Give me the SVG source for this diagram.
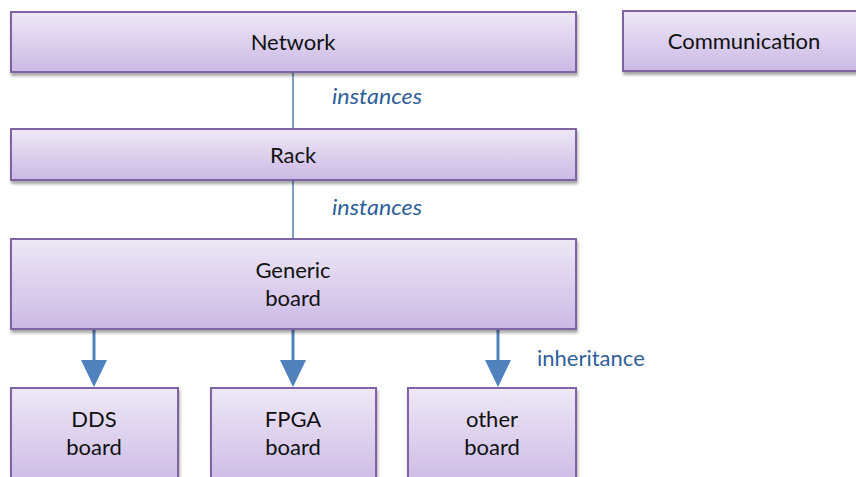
<svg xmlns="http://www.w3.org/2000/svg" width="856" height="477" viewBox="0 0 856 477">
<style>
.box{fill:url(#g);stroke:#8064a2;stroke-width:2;filter:url(#sh)}
.t{font-family:Lato,"Open Sans",sans-serif;font-size:22px;fill:#111;text-anchor:middle}
.lbl{font-family:Lato,"Open Sans",sans-serif;font-size:22px;fill:#2f5f99}
.ln{stroke:#4f81bd;fill:none}
</style>
<defs>
<linearGradient id="g" x1="0" y1="0" x2="0" y2="1">
<stop offset="0" stop-color="#eee8f6"/>
<stop offset="1" stop-color="#cbb9e5"/>
</linearGradient>
<filter id="sh" x="-5%" y="-10%" width="110%" height="130%">
<feGaussianBlur in="SourceAlpha" stdDeviation="1.5"/>
<feOffset dx="1" dy="3" result="b"/>
<feComponentTransfer><feFuncA type="linear" slope="0.35"/></feComponentTransfer>
<feMerge><feMergeNode/><feMergeNode in="SourceGraphic"/></feMerge>
</filter>
<marker id="ah" markerUnits="userSpaceOnUse" markerWidth="27" markerHeight="26" refX="1" refY="13" orient="auto" viewBox="0 0 27 26">
<path d="M0,0 L27,13 L0,26 Z" fill="#4f81bd"/>
</marker>
</defs>
<g id="connectors">
<line class="ln" x1="293" y1="72" x2="293" y2="129" stroke-width="1.5"/>
<line class="ln" x1="293" y1="180" x2="293" y2="239" stroke-width="1.5"/>
<line class="ln" x1="94" y1="329" x2="94" y2="361" stroke-width="3" marker-end="url(#ah)"/>
<line class="ln" x1="293" y1="329" x2="293" y2="361" stroke-width="3" marker-end="url(#ah)"/>
<line class="ln" x1="498" y1="329" x2="498" y2="361" stroke-width="3" marker-end="url(#ah)"/>
<text class="lbl" x="332" y="104" font-style="italic" textLength="90" lengthAdjust="spacingAndGlyphs">instances</text>
<text class="lbl" x="332" y="215" font-style="italic" textLength="90" lengthAdjust="spacingAndGlyphs">instances</text>
<text class="lbl" x="537" y="366">inheritance</text>
</g>
<g id="network"><rect class="box" x="11" y="12" width="565" height="60"/><text class="t" x="293" y="50">Network</text></g>
<g id="communication"><rect class="box" x="623" y="11" width="240" height="60"/><text class="t" x="744" y="49">Communication</text></g>
<g id="rack"><rect class="box" x="11" y="129" width="565" height="51"/><text class="t" x="293" y="163">Rack</text></g>
<g id="generic"><rect class="box" x="11" y="239" width="565" height="90"/><text class="t" x="293" y="278">Generic</text><text class="t" x="293" y="306">board</text></g>
<g id="dds"><rect class="box" x="11" y="388" width="167" height="100"/><text class="t" x="94" y="427">DDS</text><text class="t" x="94" y="455">board</text></g>
<g id="fpga"><rect class="box" x="211" y="388" width="165" height="100"/><text class="t" x="293" y="427">FPGA</text><text class="t" x="293" y="455">board</text></g>
<g id="other"><rect class="box" x="408" y="388" width="168" height="100"/><text class="t" x="492" y="427">other</text><text class="t" x="492" y="455">board</text></g>
</svg>
